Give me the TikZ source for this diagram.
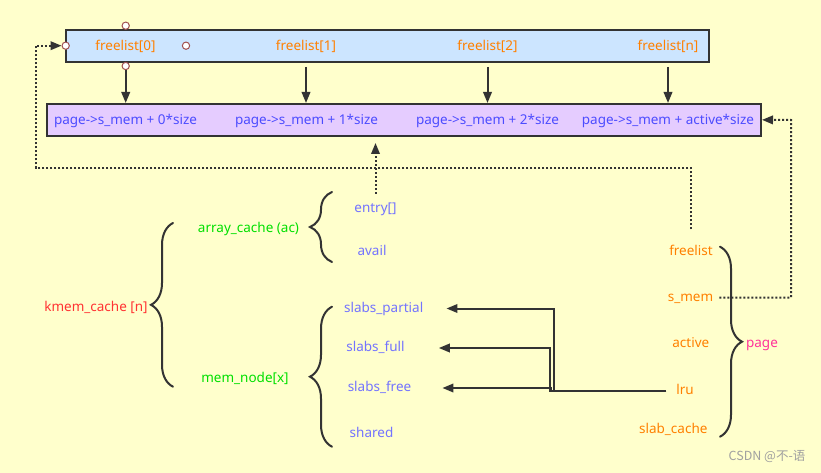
\documentclass[tikz,border=0pt]{standalone}
\usepackage{fontspec}
\setmainfont{Noto Sans}
\newfontfamily\cjkfont{Noto Sans CJK SC}
\usetikzlibrary{arrows.meta,decorations.pathreplacing}

\definecolor{paper}{HTML}{FFFFCC}
\definecolor{listblue}{HTML}{CCE5FF}
\definecolor{rowpurple}{HTML}{E5CCFF}
\definecolor{edgegray}{HTML}{333333}
\definecolor{fieldorange}{HTML}{FF8000}
\definecolor{addrblue}{HTML}{4C4CFF}
\definecolor{memberblue}{HTML}{7373FF}
\definecolor{cachered}{HTML}{FF3333}
\definecolor{nodegreen}{HTML}{00E000}
\definecolor{pagepink}{HTML}{FF3399}
\definecolor{portred}{HTML}{A05050}
\definecolor{markgray}{HTML}{A0A0A0}

\begin{document}
\begin{tikzpicture}[x=1pt,y=-1pt,>={Triangle[length=11pt,width=8.5pt]},
                    lbl/.style={inner sep=2pt,text height=9.5pt,text depth=2.5pt,
                                font=\fontsize{13.5}{15}\selectfont},
                    bar/.style={draw=edgegray,line width=2pt,inner sep=0pt,minimum height=31.7pt},
                    port/.style={circle,draw=portred,fill=white,line width=1pt,
                                 minimum size=7.3pt,inner sep=0pt},
                    link/.style={draw=edgegray,line width=2pt},
                    dots/.style={draw=edgegray,line width=2pt,dotted},
                    curly/.style={draw=edgegray,line width=2pt,line cap=round,
                                  decorate,decoration={brace,amplitude=22pt}}]
    \useasboundingbox (0,0) rectangle (821,473);
    \fill[paper] (0,0) rectangle (821,473);

    % freelist array and the objects it points to
    \node[bar,fill=listblue,minimum width=643.6pt] (list) at (387.5,45.85) {};
    \node[bar,fill=rowpurple,minimum width=714.3pt] (row) at (403.85,119.85) {};

    \node[port] (pt) at (125.7,25.7) {};
    \node[port] (pl) at (65.7,45.7) {};
    \node[port] (pr) at (186,45.7) {};
    \node[port] (pb) at (125.7,66) {};

    \node[lbl,text=fieldorange] (fl0) at (125.5,47) {freelist[0]};
    \node[lbl,text=fieldorange] (fl1) at (306,47) {freelist[1]};
    \node[lbl,text=fieldorange] (fl2) at (487.5,47) {freelist[2]};
    \node[lbl,text=fieldorange] (fln) at (668,47) {freelist[n]};

    \node[lbl,text=addrblue] (pm0) at (125.5,121) {page->s\_mem + 0*size};
    \node[lbl,text=addrblue] (pm1) at (306.5,121) {page->s\_mem + 1*size};
    \node[lbl,text=addrblue] (pm2) at (487.5,121) {page->s\_mem + 2*size};
    \node[lbl,text=addrblue] (pmn) at (668,121) {page->s\_mem + active*size};

    % kmem_cache
    \node[lbl,text=cachered] (kmem) at (96,307.5) {kmem\_cache [n]};
    \node[lbl,text=nodegreen] (ac) at (248.5,228.5) {array\_cache (ac)};
    \node[lbl,text=nodegreen] (mn) at (245,378.5) {mem\_node[x]};

    \node[lbl,text=memberblue] (entry) at (375.5,208.5) {entry[]};
    \node[lbl,text=memberblue] (avail) at (372,251.5) {avail};
    \node[lbl,text=memberblue] (sp) at (383.7,308.5) {slabs\_partial};
    \node[lbl,text=memberblue] (sfull) at (375.5,348) {slabs\_full};
    \node[lbl,text=memberblue] (sfree) at (379.5,388) {slabs\_free};
    \node[lbl,text=memberblue] (shared) at (371.5,434) {shared};

    % page
    \node[lbl,text=fieldorange] (pfree) at (691,251.5) {freelist};
    \node[lbl,text=fieldorange] (psmem) at (690.5,297.5) {s\_mem};
    \node[lbl,text=fieldorange] (pact) at (690.8,343.5) {active};
    \node[lbl,text=fieldorange] (lru) at (685,390.5) {lru};
    \node[lbl,text=fieldorange] (pcache) at (673.3,430) {slab\_cache};
    \node[lbl,text=pagepink] (page) at (762,343.5) {page};

    \node[font={\cjkfont\fontsize{12.5}{14}\selectfont},text=markgray] (mark) at (767,456.7) {CSDN @不-语};

    \coordinate (lc) at (36,168);
    \coordinate (rc) at (791,120);

    \draw[curly] (173,386.7) -- (173,223);
    \draw[curly] (332,262) -- (332,192);
    \draw[curly] (332,446.7) -- (332,306.7);
    \draw[curly] (720,246.7) -- (720,436.7);

    \path[->,line width=2pt,edgegray]
    (pb) edge (pb |- row.north)
    ([yshift=-4.3pt]fl1 |- list.south) edge (fl1 |- row.north)
    ([yshift=-4.3pt]fl2 |- list.south) edge (fl2 |- row.north)
    ([yshift=-4.3pt]fln |- list.south) edge (fln |- row.north);

    \draw[->,dots] ([yshift=14pt]pfree.north) |- (lc) |- (pl);
    \draw[->,dots] ([xshift=4pt]psmem.east) -| (rc) -- (row.east);
    \draw[->,dots,shorten >=6.3pt] ([yshift=6.7pt]entry.north) -- (entry.north |- row.south);

    \draw[->,link] ([xshift=-8pt]lru.west) -- ++(-112,0) |- ([xshift=21pt]sp.east);
    \draw[->,link] ([xshift=-8pt]lru.west) -- ++(-116,0) |- ([xshift=32pt]sfull.east);
    \draw[->,link] ([xshift=-8pt]lru.west) -- ++(-115,0) |- ([xshift=29pt]sfree.east);
\end{tikzpicture}
\end{document}
